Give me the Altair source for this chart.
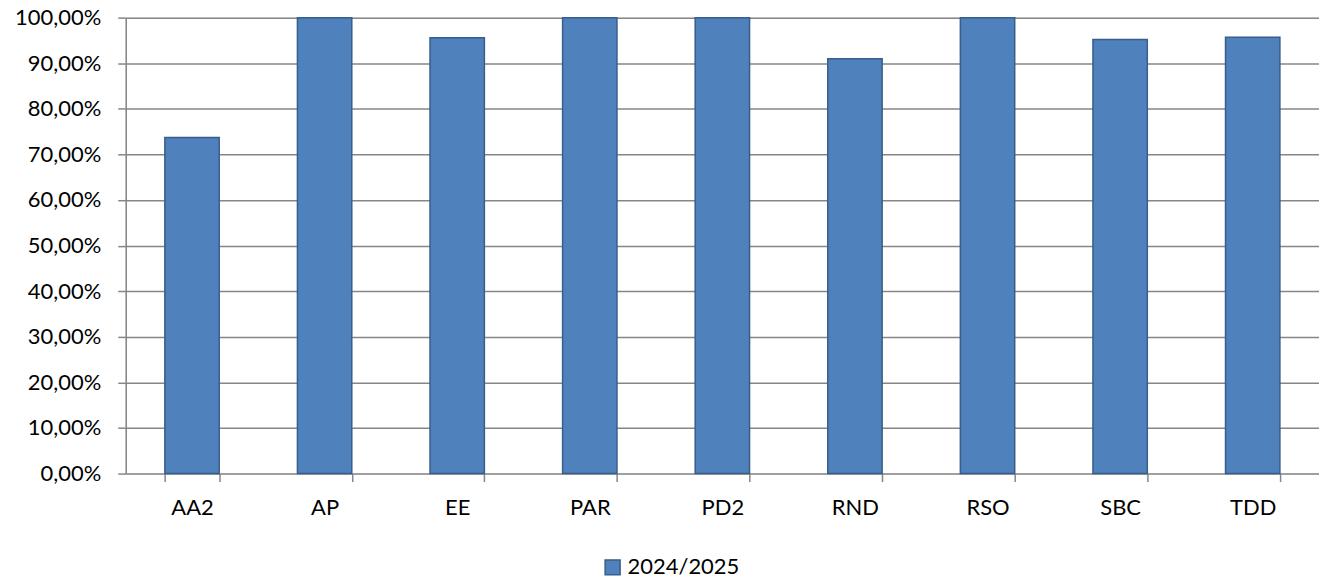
import altair as alt
import pandas as pd

categories = ["AA2", "AP", "EE", "PAR", "PD2", "RND", "RSO", "SBC", "TDD"]
values = [73.7, 100.0, 95.6, 100.0, 100.0, 91.0, 100.0, 95.2, 95.7]
series = "2024/2025"
y_ticks = [0, 10, 20, 30, 40, 50, 60, 70, 80, 90, 100]

df = pd.DataFrame({"cat": categories, "val": values, "series": [series] * len(categories)})

FONT = "Lato"
FS = 22
BAR = "#4F81BD"
BAR_STROKE = "#385D8A"
GRID = "#868686"

bars = alt.Chart(df).mark_bar(stroke=BAR_STROKE, strokeWidth=1.5).encode(
    x=alt.X("cat:N", sort=categories, title=None,
            scale=alt.Scale(paddingInner=0.59, paddingOuter=0.295),
            axis=alt.Axis(labelAngle=0, tickBand="extent", tickSize=8, tickColor=GRID,
                          tickWidth=1.5, domain=False, grid=False,
                          labelPadding=16, labelFont=FONT, labelFontSize=FS,
                          labelColor="#000000")),
    y=alt.Y("val:Q", title=None,
            scale=alt.Scale(domain=[0, 100], nice=False, zero=True),
            axis=alt.Axis(values=y_ticks, tickSize=8, tickColor=GRID, tickWidth=1.5,
                          domainColor=GRID, domainWidth=1.5,
                          gridColor=GRID, gridWidth=1.5, gridOpacity=1,
                          labelPadding=17, labelFont=FONT, labelFontSize=FS,
                          labelColor="#000000",
                          labelExpr="replace(format(datum.value, '.2f'), '.', ',') + '%'")),
    color=alt.Color("series:N", title=None,
                    scale=alt.Scale(range=[BAR]),
                    legend=alt.Legend(orient="none", legendX=477, legendY=540,
                                      symbolType="square", symbolSize=225,
                                      symbolStrokeColor=BAR_STROKE, symbolStrokeWidth=1.5,
                                      symbolOpacity=1, labelFont=FONT, labelFontSize=FS,
                                      labelColor="#000000", labelOffset=4, padding=0)),
)

chart = bars.properties(
    width=1196, height=457,
    autosize=alt.AutoSizeParams(type="none"),
    padding={"left": 118, "top": 9, "right": 0, "bottom": 107},
).configure_view(
    fill="#E8ECF4", stroke=None
).configure(background="white")

chart.save("out.html", embed_options={"renderer": "svg", "actions": False})
